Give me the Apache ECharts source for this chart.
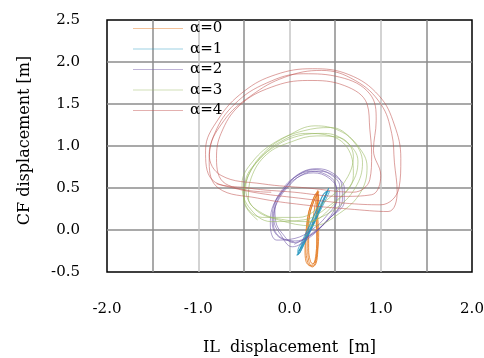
<!DOCTYPE html>
<html>
<head>
<meta charset="utf-8">
<script src="https://cdn.jsdelivr.net/npm/echarts@6/dist/echarts.min.js"></script>
<style>
  html, body { margin: 0; padding: 0; background: #fff; }
  #chart { width: 484px; height: 358px; }
</style>
</head>
<body>
<div id="chart"></div>
<script>
// axis ranges / ticks
const xRange = [-2, 2];
const yRange = [-0.5, 2.5];
const tickStep = 0.5;
const seriesNames = ["α=0", "α=1", "α=2", "α=3", "α=4"];

// trajectories, [IL, CF] in metres
const alpha0 = [
  [0.25, 0.05], [0.28, 0.3],
  [0.31, 0.47], [0.25, 0.34], [0.21, 0.2], [0.19, 0.0], [0.18, -0.2], [0.19, -0.34], [0.23, -0.43], [0.27, -0.42], [0.3, -0.3], [0.31, -0.08], [0.3, 0.15], [0.31, 0.35],
  [0.32, 0.46], [0.26, 0.33], [0.22, 0.18], [0.2, -0.02], [0.2, -0.22], [0.21, -0.36], [0.25, -0.44], [0.29, -0.4], [0.31, -0.25], [0.32, -0.03], [0.31, 0.18], [0.32, 0.38],
  [0.3, 0.44], [0.24, 0.31], [0.2, 0.16], [0.18, -0.04], [0.17, -0.24], [0.18, -0.37], [0.22, -0.42], [0.26, -0.41], [0.29, -0.28], [0.3, -0.06], [0.29, 0.16], [0.3, 0.36],
  [0.31, 0.45], [0.26, 0.32], [0.22, 0.17], [0.21, -0.03], [0.21, -0.21], [0.22, -0.33], [0.25, -0.4], [0.28, -0.38], [0.3, -0.22], [0.3, 0.0], [0.3, 0.2], [0.32, 0.42]
];
const alpha1 = [
  [0.42, 0.48], [0.34, 0.3], [0.25, 0.08], [0.17, -0.1], [0.11, -0.24], [0.08, -0.3], [0.11, -0.27], [0.18, -0.12], [0.27, 0.08], [0.36, 0.28], [0.44, 0.46],
  [0.39, 0.45], [0.31, 0.27], [0.22, 0.06], [0.14, -0.13], [0.09, -0.26], [0.1, -0.28], [0.15, -0.16], [0.24, 0.04], [0.33, 0.25], [0.4, 0.42],
  [0.43, 0.5], [0.36, 0.32], [0.27, 0.1], [0.19, -0.08], [0.12, -0.22], [0.1, -0.25], [0.14, -0.2], [0.21, -0.04], [0.3, 0.16], [0.38, 0.36], [0.41, 0.46],
  [0.37, 0.42], [0.29, 0.22], [0.21, 0.02], [0.13, -0.18], [0.09, -0.3], [0.12, -0.26], [0.19, -0.1], [0.28, 0.1], [0.35, 0.3], [0.42, 0.45]
];
const alpha2 = [
  [0.05, -0.17], [0.25, -0.05], [0.42, 0.12], [0.55, 0.32], [0.55, 0.52], [0.45, 0.66], [0.28, 0.72], [0.1, 0.66], [-0.05, 0.5], [-0.17, 0.3], [-0.19, 0.1], [-0.12, -0.08],
  [0.07, -0.13], [0.27, -0.02], [0.45, 0.15], [0.58, 0.36], [0.57, 0.55], [0.47, 0.68], [0.3, 0.73], [0.12, 0.68], [-0.03, 0.53], [-0.14, 0.33], [-0.17, 0.12], [-0.1, -0.05],
  [0.03, -0.2], [0.22, -0.09], [0.38, 0.08], [0.5, 0.27], [0.52, 0.47], [0.43, 0.62], [0.26, 0.68], [0.08, 0.62], [-0.07, 0.46], [-0.19, 0.26], [-0.21, 0.06], [-0.14, -0.12],
  [0.06, -0.1], [0.24, 0.0], [0.4, 0.16], [0.52, 0.38], [0.5, 0.56], [0.4, 0.66], [0.24, 0.7], [0.06, 0.63], [-0.08, 0.48], [-0.16, 0.28], [-0.15, 0.1], [-0.08, -0.04],
  [0.04, -0.15], [0.26, -0.04], [0.44, 0.14], [0.6, 0.34], [0.6, 0.5], [0.5, 0.64], [0.32, 0.7], [0.14, 0.66], [-0.01, 0.52], [-0.13, 0.34], [-0.18, 0.14], [-0.13, -0.06],
  [0.05, -0.14]
];
const alpha3 = [
  [0.2, 0.08], [0.5, 0.25], [0.72, 0.5], [0.8, 0.8], [0.68, 1.08], [0.45, 1.22], [0.15, 1.18], [-0.15, 1.05], [-0.4, 0.82], [-0.52, 0.55], [-0.45, 0.28], [-0.2, 0.1],
  [0.15, 0.12], [0.45, 0.3], [0.68, 0.55], [0.75, 0.82], [0.62, 1.05], [0.38, 1.15], [0.1, 1.12], [-0.18, 0.98], [-0.38, 0.78], [-0.48, 0.5], [-0.38, 0.25], [-0.12, 0.12],
  [0.25, 0.05], [0.55, 0.2], [0.78, 0.45], [0.85, 0.75], [0.75, 1.0], [0.55, 1.18], [0.28, 1.24], [-0.02, 1.12], [-0.28, 0.92], [-0.45, 0.65], [-0.5, 0.38], [-0.3, 0.15],
  [0.1, 0.15], [0.4, 0.35], [0.62, 0.6], [0.7, 0.88], [0.55, 1.1], [0.3, 1.12], [0.02, 1.05], [-0.25, 0.9], [-0.42, 0.62], [-0.45, 0.38], [-0.3, 0.2], [-0.05, 0.12],
  [0.2, 0.1], [0.5, 0.32], [0.7, 0.65], [0.65, 0.95], [0.45, 1.12], [0.18, 1.15], [-0.1, 1.05], [-0.32, 0.85], [-0.48, 0.6], [-0.5, 0.35], [-0.35, 0.12]
];
const alpha4 = [
  [-0.8, 0.55], [-0.4, 0.45], [0.1, 0.38], [0.6, 0.32], [1.0, 0.3], [1.2, 0.5], [1.22, 0.85], [1.15, 1.25], [0.98, 1.6], [0.65, 1.85], [0.25, 1.92], [-0.15, 1.85], [-0.5, 1.65], [-0.78, 1.32], [-0.92, 0.95],
  [-0.85, 0.6], [-0.45, 0.5], [0.05, 0.45], [0.55, 0.4], [0.9, 0.42], [1.0, 0.65], [0.92, 0.95], [0.95, 1.3], [0.88, 1.62], [0.55, 1.82], [0.15, 1.86], [-0.25, 1.75], [-0.6, 1.5], [-0.82, 1.15], [-0.88, 0.8],
  [-0.78, 0.5], [-0.35, 0.38], [0.15, 0.3], [0.65, 0.25], [1.08, 0.22], [1.18, 0.45], [1.15, 0.8], [1.12, 1.15], [1.0, 1.5], [0.72, 1.78], [0.35, 1.9], [-0.05, 1.82], [-0.42, 1.6], [-0.72, 1.3], [-0.88, 0.9],
  [-0.75, 0.65], [-0.3, 0.55], [0.2, 0.5], [0.7, 0.45], [0.88, 0.6], [0.9, 0.9], [0.88, 1.2], [0.85, 1.5], [0.6, 1.72], [0.2, 1.78], [-0.2, 1.7], [-0.55, 1.48], [-0.75, 1.15], [-0.8, 0.85],
  [-0.7, 0.55], [-0.2, 0.45]
];
const trajectories = [alpha0, alpha1, alpha2, alpha3, alpha4];
const colors = ["#e4781e", "#2596be", "#7058a8", "#98b860", "#c0504d"];
const opacities = [0.9, 0.85, 0.65, 0.65, 0.6];

const font = "DejaVu Serif";
const chart = echarts.init(document.getElementById("chart"));

chart.setOption({
  animation: false,
  backgroundColor: "#fff",
  grid: {
    left: 107, right: 12, top: 20, bottom: 86,
    outerBoundsMode: "none", containLabel: false,
    show: true, borderColor: "#000", borderWidth: 1.5, backgroundColor: "transparent"
  },
  legend: {
    orient: "vertical",
    left: 128, top: 16,
    icon: "rect",
    itemWidth: 50, itemHeight: 1, itemGap: 5.5,
    itemStyle: { opacity: 0.45 },
    textStyle: { fontFamily: font, fontSize: 15, color: "#000", lineHeight: 14, padding: [0, 0, 0, 2] },
    data: seriesNames
  },
  xAxis: {
    type: "value",
    min: xRange[0], max: xRange[1], interval: tickStep,
    name: "IL  displacement  [m]",
    nameLocation: "middle", nameGap: 68,
    nameTextStyle: { fontFamily: font, fontSize: 16, color: "#000" },
    axisLine: { show: false },
    axisTick: { show: false },
    axisLabel: {
      margin: 30, fontFamily: font, fontSize: 15, color: "#000",
      formatter: v => (Math.abs(v % 1) < 1e-9 ? v.toFixed(1) : "")
    },
    splitLine: {
      show: true, showMinLine: false, showMaxLine: false,
      lineStyle: { color: ["#8c8c8c", "#c4c4c4"], width: 1.5 }
    }
  },
  yAxis: {
    type: "value",
    min: yRange[0], max: yRange[1], interval: tickStep,
    name: "CF displacement [m]",
    nameLocation: "middle", nameGap: 74,
    nameTextStyle: { fontFamily: font, fontSize: 16, color: "#000", padding: [0, 0, 0, 11] },
    axisLine: { show: false },
    axisTick: { show: false },
    axisLabel: {
      margin: 27, fontFamily: font, fontSize: 15, color: "#000",
      formatter: v => v.toFixed(1)
    },
    splitLine: {
      show: true, showMinLine: false, showMaxLine: false,
      lineStyle: { color: "#8c8c8c", width: 1.5 }
    }
  },
  series: trajectories.map((pts, i) => ({
    name: seriesNames[i],
    type: "line",
    data: pts,
    smooth: 0.4,
    symbol: "none",
    color: colors[i],
    lineStyle: { color: colors[i], width: 0.9, opacity: opacities[i] }
  }))
});
</script>
</body>
</html>
